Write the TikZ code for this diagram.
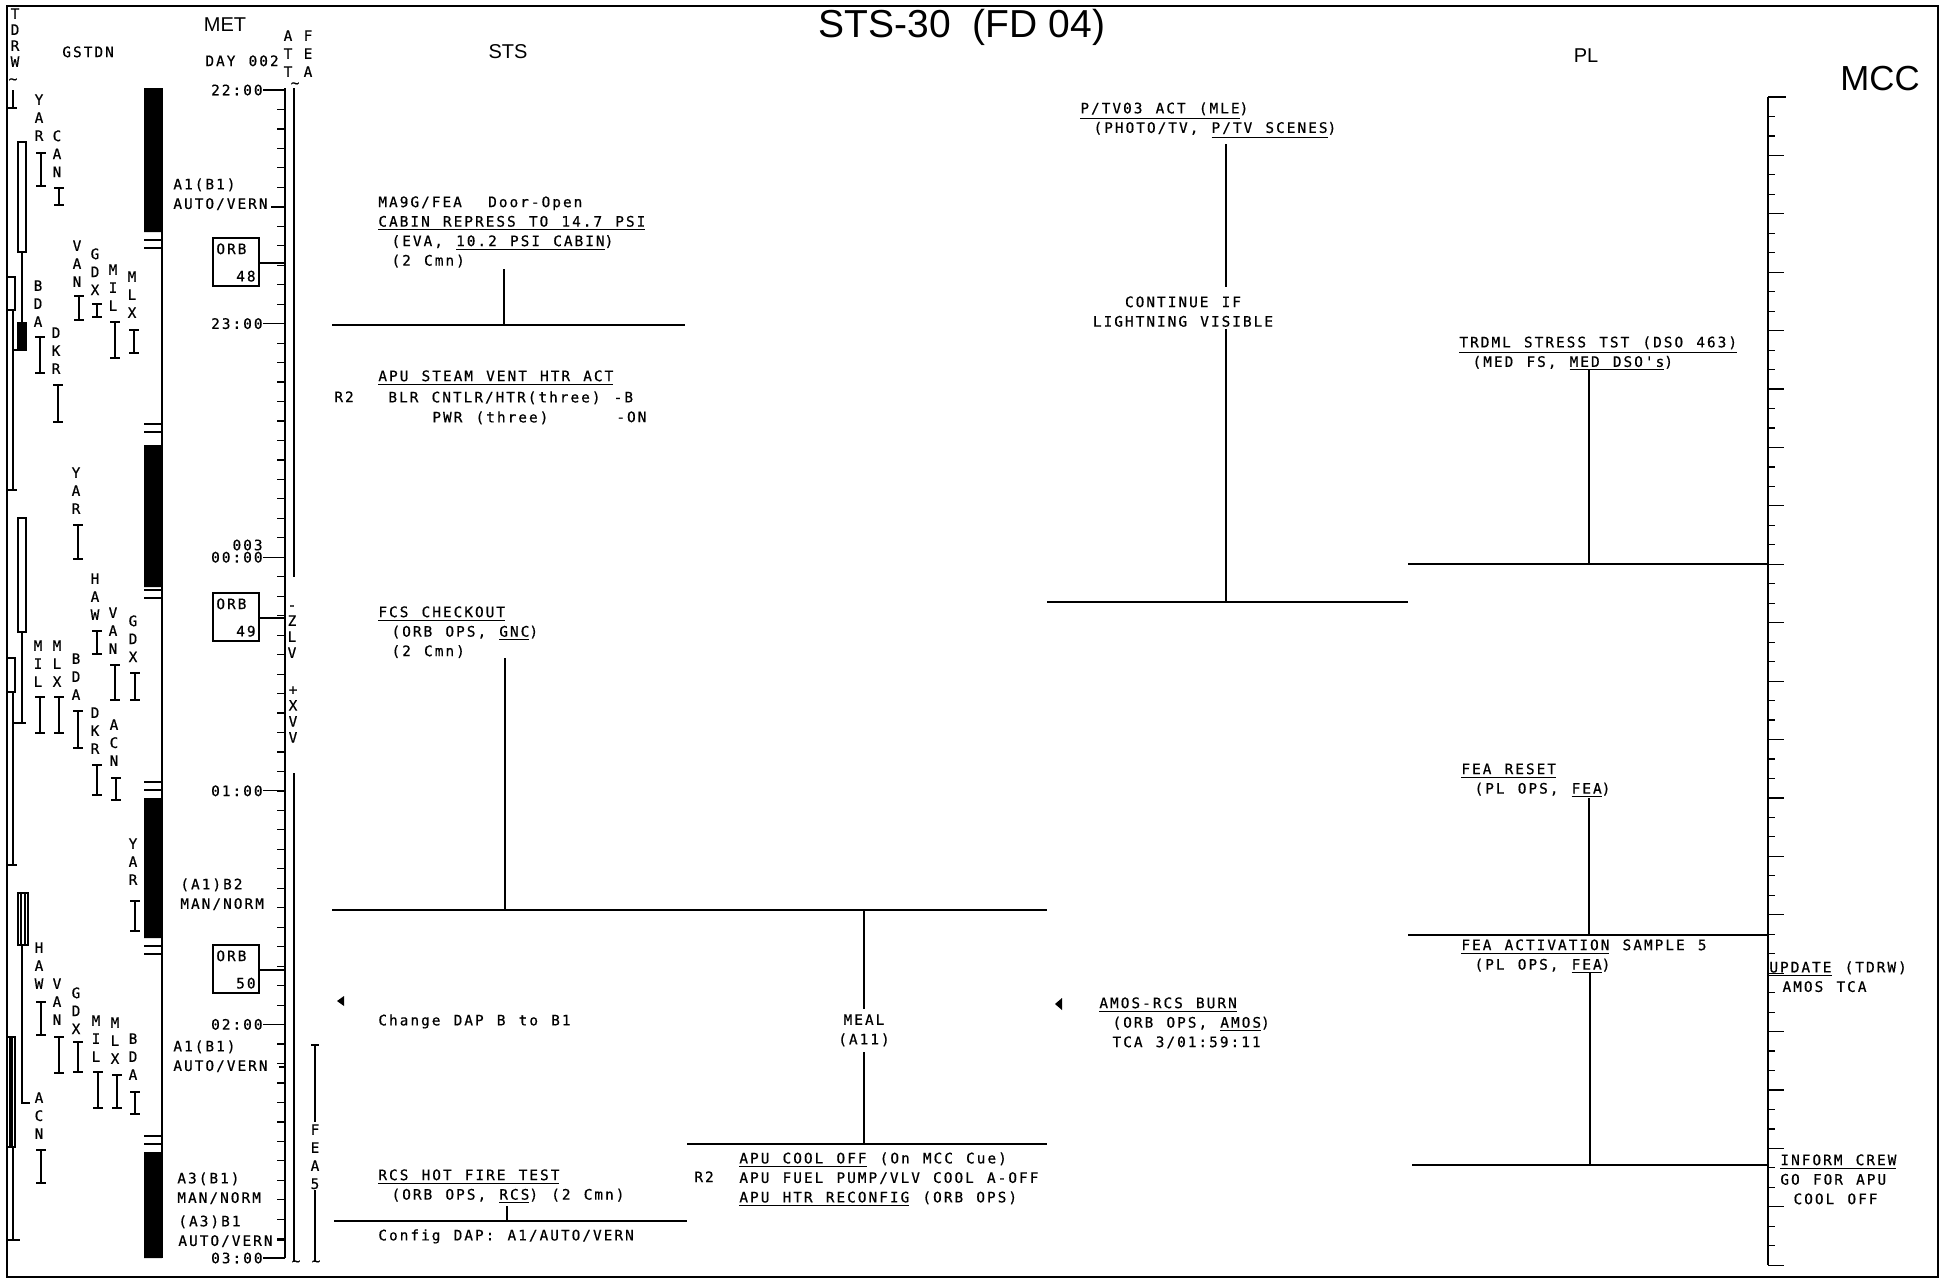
\documentclass[tikz,border=0pt]{standalone}
\usepackage{fontspec}
\newfontfamily\plotfont[LetterSpace=14,FakeBold=0.6,WordSpace={1.232,0,0}]{DejaVu Sans Mono}
\newfontfamily\headfont{Liberation Sans}
\usetikzlibrary{positioning}
\tikzset{
  ptxt/.style={font=\plotfont\fontsize{7.2}{9.75}\selectfont,
               inner sep=0pt, align=left, anchor=north west},
  vtxt/.style={font=\plotfont\fontsize{7.2}{9}\selectfont, inner sep=0pt,
               align=center, anchor=north},
  hdtxt/.style={font=\headfont\fontsize{10}{12}\selectfont, inner sep=0pt},
  bar/.style={line width=1pt},
  stem/.style={line width=0.8pt},
  tick/.style={line width=0.6pt},
}

\begin{document}
\begin{tikzpicture}[x=0.5pt,y=-0.5pt]
\useasboundingbox (0,0) rectangle (1942,1281);
\draw[bar] (7,6) rectangle (1938,1277);

% headings
\node[hdtxt, font=\headfont\fontsize{19.5}{20}\selectfont] (title) at (962,27) {STS-30~~(FD 04)};
\node[hdtxt, font=\headfont\fontsize{17.4}{18}\selectfont] (mcc) at (1880,79) {MCC};
\node[hdtxt] (pl) at (1586,56) {PL};
\node[hdtxt] (sts) at (508,52) {STS};
\node[hdtxt] (met) at (225,25) {MET};
\node[ptxt] (day) at (205,55) {DAY 002};
\node[ptxt] (gstdn) at (62,46) {GSTDN};
\node[vtxt, font=\plotfont\fontsize{7.2}{8}\selectfont] (tdrw) at (15,8) {T\\D\\R\\W};
\node[vtxt] (att) at (288,30) {A\\T\\T};
\node[vtxt] (fea) at (308,30) {F\\E\\A};
\node[vtxt] (tl1) at (13,78) {\textasciitilde};
\node[vtxt] (tl2) at (295,82) {\textasciitilde};
\node[vtxt] (tl3) at (296,1260) {\textasciitilde};
\node[vtxt] (tl4) at (316,1260) {\textasciitilde};

% TDRW coverage
\draw[tick] (13,90) -- (13,108) (7,108) -- (17,108);
\draw[tick] (18,142) rectangle (26,252) (22,252) -- (22,350);
\draw[tick] (7,277) rectangle (15,310);
\draw[tick] (18,323) rectangle (26,350) (20,323) -- (20,350) (24,323) -- (24,350);
\draw[tick] (13,350) -- (26,350) (13,310) -- (13,490) (7,490) -- (17,490);
\draw[tick] (18,518) rectangle (26,632) (22,632) -- (22,723) (13,723) -- (26,723);
\draw[tick] (7,658) rectangle (15,692) (13,692) -- (13,865) (7,865) -- (17,865);
\draw[tick] (18,893) rectangle (28,945) (21,893) -- (21,945) (25,893) -- (25,945);
\draw[tick] (22,945) -- (22,1103) -- (30,1103);
\draw[tick] (7,1037) rectangle (15,1147) (10,1037) -- (10,1147) (12,1037) -- (12,1147);
\draw[tick] (13,1147) -- (13,1240) (7,1240) -- (20,1240);

% GSTDN stations
\foreach \sx/\sy/\ya/\yb/\sname in {
  39/99/153/186/{Y\\A\\R}, 57/135/188/205/{C\\A\\N}, 77/245/296/320/{V\\A\\N},
  95/253/304/317/{G\\D\\X}, 113/269/322/358/{M\\I\\L}, 132/276/330/353/{M\\L\\X},
  38/285/337/373/{B\\D\\A}, 56/332/385/422/{D\\K\\R},
  76/472/525/559/{Y\\A\\R}, 95/578/631/654/{H\\A\\W}, 113/612/665/700/{V\\A\\N},
  133/620/673/700/{G\\D\\X}, 38/645/697/733/{M\\I\\L}, 57/645/697/733/{M\\L\\X},
  76/658/711/748/{B\\D\\A}, 95/712/765/795/{D\\K\\R}, 114/724/778/800/{A\\C\\N},
  133/843/901/931/{Y\\A\\R}, 39/947/1002/1035/{H\\A\\W}, 57/983/1037/1073/{V\\A\\N},
  76/992/1042/1072/{G\\D\\X}, 96/1020/1072/1108/{M\\I\\L}, 115/1022/1075/1108/{M\\L\\X},
  133/1038/1092/1114/{B\\D\\A}, 39/1097/1150/1183/{A\\C\\N}}{
  \node[vtxt] (st\sx-\sy) at (\sx,\sy-5) {\sname};
  \draw[tick] ({\sx-3},\ya) -- ({\sx+7},\ya) ({\sx+2},\ya) -- ({\sx+2},\yb)
              ({\sx-3},\yb) -- ({\sx+7},\yb);
}

% day/night bars
\fill (144,88) rectangle (162,232) (144,445) rectangle (162,587)
      (144,798) rectangle (162,938) (144,1152) rectangle (162,1258);
\draw[stem] (162,88) -- (162,1258);
\foreach \y in {240,424,590,782,946,1136}
  \draw[tick] (144,\y) -- (162,\y) (144,\y+8) -- (162,\y+8);

% MET axis
\draw[bar] (285,88) -- (285,1258);
\foreach \k in {0,...,60}
  \draw[tick] (285,{90+\k*19.47}) -- ++(-8,0);
\foreach \hr/\k in {22:00/0,23:00/1,00:00/2,01:00/3,02:00/4,03:00/5}{
  \node[ptxt, anchor=east] (hr\k) at (263,{90+\k*233.6}) {\hr};
  \draw[tick] (hr\k.east) -- (285,{90+\k*233.6});
}
\node[ptxt, anchor=east] (d003) at (263,545) {003};

% attitude
\node[ptxt] (at1) at (173,178) {A1(B1)\\AUTO/VERN};
\node[ptxt] (at2) at (180,878) {(A1)B2\\MAN/NORM};
\node[ptxt] (at3) at (173,1040) {A1(B1)\\AUTO/VERN};
\node[ptxt] (at4) at (177,1172) {A3(B1)\\MAN/NORM};
\node[ptxt] (at5) at (178,1215) {(A3)B1\\AUTO/VERN};
\draw[tick] (271,207) -- (285,207) (279,1067) -- (285,1067) (277,1240) -- (285,1240);
\draw[stem] (294,88) -- (294,577) (294,773) -- (294,1262);
\node[vtxt, font=\plotfont\fontsize{7.2}{8}\selectfont] (zlv) at (292,605) {-\\Z\\L\\V};
\node[vtxt, font=\plotfont\fontsize{7.2}{8}\selectfont] (xvv) at (293,686) {+\\X\\V\\V};
\draw[stem] (315,1045) -- (315,1122) (311,1045) -- (319,1045) (315,1190) -- (315,1262);
\node[vtxt] (fea5) at (315,1124) {F\\E\\A\\5};

% orbits
\foreach \n/\y in {48/238,49/593,50/945}{
  \draw[stem] (213,\y) rectangle (259,\y+48);
  \node[ptxt] (orb\n) at (216,\y+5) {ORB};
  \node[ptxt, anchor=south east] (orbn\n) at (256,\y+44) {\n};
  \draw[stem] (259,\y+25) -- (285,\y+25);
}

% STS
\node[ptxt] (cabin) at (378,196) {MA9G/FEA~~Door-Open\\\underline{CABIN REPRESS TO 14.7 PSI}\\~(EVA, \underline{10.2 PSI CABIN})\\~(2 Cmn)};
\draw[stem] (504,269) -- (504,325);
\draw[bar] (332,325) -- (685,325);

\node[ptxt] (apuvent) at (378,370) {\underline{APU STEAM VENT HTR ACT}};
\node[ptxt] (ventr2) at (334,391) {R2};
\node[ptxt] (blr) at (388,391) {BLR CNTLR/HTR(three) -B};
\node[ptxt] (pwr) at (432,411) {PWR (three)};
\node[ptxt] (pwron) at (616,411) {-ON};

\node[ptxt] (fcs) at (378,606) {\underline{FCS CHECKOUT}\\~(ORB OPS, \underline{GNC})\\~(2 Cmn)};
\draw[stem] (505,658) -- (505,910);
\draw[bar] (332,910) -- (1047,910);

\fill (337,1001) -- (344,996) -- (344,1006) -- cycle;
\node[ptxt] (dapchg) at (378,1014) {Change DAP B to B1};

\node[ptxt, align=center, anchor=north] (meal) at (864,1014) {MEAL\\(A11)};
\draw[stem] (864,910) -- (864,1009) (864,1052) -- (864,1144);
\draw[bar] (687,1144) -- (1047,1144);
\node[ptxt] (apucool) at (739,1152) {\underline{APU COOL OFF} (On MCC Cue)\\APU FUEL PUMP/VLV COOL A-OFF\\\underline{APU HTR RECONFIG} (ORB OPS)};
\node[ptxt] (coolr2) at (694,1171) {R2};

\node[ptxt] (rcs) at (378,1169) {\underline{RCS HOT FIRE TEST}\\~(ORB OPS, \underline{RCS}) (2 Cmn)};
\draw[stem] (507,1206) -- (507,1221);
\draw[bar] (334,1221) -- (687,1221);
\node[ptxt] (cfgdap) at (378,1229) {Config DAP: A1/AUTO/VERN};

% PL
\node[ptxt] (ptv) at (1080,102) {\underline{P/TV03 ACT (MLE})\\~(PHOTO/TV, \underline{P/TV SCENES})};
\draw[stem] (1226,144) -- (1226,287);
\node[ptxt, align=center, anchor=north] (lightn) at (1183,296) {CONTINUE IF\\LIGHTNING VISIBLE};
\draw[stem] (1226,329) -- (1226,602);
\draw[bar] (1047,602) -- (1408,602);

\fill (1055,1004) -- (1062,998) -- (1062,1010) -- cycle;
\node[ptxt] (amos) at (1099,997) {\underline{AMOS-RCS BURN}\\~(ORB OPS, \underline{AMOS})\\~TCA 3/01:59:11};

\node[ptxt] (trdml) at (1459,336) {\underline{TRDML STRESS TST (DSO 463)}\\~(MED FS, \underline{MED DSO's})};
\draw[stem] (1589,369) -- (1589,564);
\draw[bar] (1408,564) -- (1768,564);

\node[ptxt] (feareset) at (1461,763) {\underline{FEA RESET}\\~(PL OPS, \underline{FEA})};
\draw[stem] (1589,798) -- (1589,935);
\draw[bar] (1408,935) -- (1768,935);

\node[ptxt] (feaact) at (1461,939) {\underline{FEA ACTIVATION} SAMPLE 5\\~(PL OPS, \underline{FEA})};
\draw[stem] (1590,973) -- (1590,1165);
\draw[bar] (1412,1165) -- (1768,1165);

% MCC
\draw[bar] (1768,97) -- (1768,1265) (1768,97) -- (1786,97);
\foreach \k in {1,...,60}{
  \pgfmathsetmacro\tl{mod(\k,3)==0 ? 16 : 7}
  \draw[tick] (1768,{97+\k*19.47}) -- ++(\tl,0);
}
\node[ptxt] (update) at (1769,961) {\underline{UPDATE} (TDRW)\\~AMOS TCA};
\node[ptxt] (inform) at (1780,1154) {\underline{INFORM CREW}\\GO FOR APU\\~COOL OFF};
\end{tikzpicture}
\end{document}
